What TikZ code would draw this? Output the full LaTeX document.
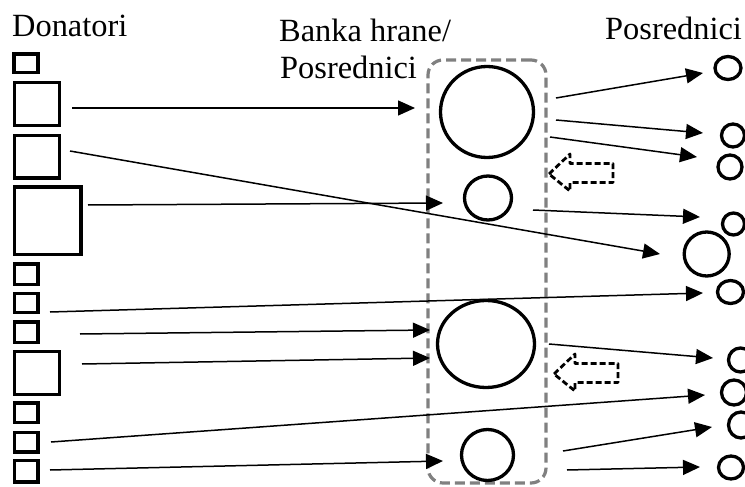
\documentclass[tikz,border=0pt]{standalone}
\usepackage{fontspec}
\setmainfont{Liberation Serif}
\usetikzlibrary{arrows.meta,shapes.geometric}
\begin{document}
\begin{tikzpicture}[x=1pt,y=-1pt,
  lbl/.style={anchor=base west,inner sep=0pt,font=\fontsize{32.4}{38}\selectfont},
  sq/.style={draw,line width=3.1pt,inner sep=0pt},
  circ/.style={draw,ellipse,line width=3.3pt,inner sep=0pt},
  conn/.style={line width=1.5pt,-{Triangle[length=17pt,width=15pt]}},
  bank/.style={draw=gray,line width=3.2pt,dash pattern=on 10pt off 5pt,rounded corners=15pt,inner sep=0pt},
  blk/.style={draw,line width=2.8pt,dash pattern=on 6pt off 3pt,line join=round}]
\useasboundingbox (0,0) rectangle (745,487);
\clip (0,0) rectangle (745,487);
% labels
\node[lbl] (tdon) at (12,37) {Donatori};
\node[lbl] (tbank1) at (279,42) {Banka hrane/};
\node[lbl] (tbank2) at (280,79) {Posrednici};
\node[lbl] (tpos) at (605,40) {Posrednici};
% bank box
\node[bank,minimum width=118pt,minimum height=423pt] (box) at (487,271.5) {};
% donor squares
\node[sq,minimum width=24pt,minimum height=18.6pt] (s1) at (26,63.3) {};
\node[sq,minimum width=45.3pt,minimum height=43pt] (s2) at (36.7,103.8) {};
\node[sq,minimum width=45pt,minimum height=42.6pt] (s3) at (36.8,156.7) {};
\node[sq,minimum width=66.6pt,minimum height=67.6pt] (s4) at (47.7,220.8) {};
\node[sq,minimum width=23.6pt,minimum height=20.6pt] (s5) at (26.2,274.3) {};
\node[sq,minimum width=23.6pt,minimum height=19pt] (s6) at (26.2,303.2) {};
\node[sq,minimum width=23.6pt,minimum height=20.6pt] (s7) at (26.2,332.3) {};
\node[sq,minimum width=45pt,minimum height=43pt] (s8) at (36.8,372.8) {};
\node[sq,minimum width=23.6pt,minimum height=19.6pt] (s9) at (26.2,412.8) {};
\node[sq,minimum width=23.6pt,minimum height=19.6pt] (s10) at (26.2,442.2) {};
\node[sq,minimum width=23.6pt,minimum height=21.3pt] (s11) at (26.2,471.3) {};
% bank circles
\node[circ,minimum width=93pt,minimum height=91pt] (c1) at (487,112) {};
\node[circ,minimum width=47pt,minimum height=44pt] (c2) at (488,198) {};
\node[circ,minimum width=97pt,minimum height=87pt] (c3) at (486,344) {};
\node[circ,minimum width=52pt,minimum height=51pt] (c4) at (487.5,455) {};
% intermediary circles
\node[circ,minimum width=26pt,minimum height=23pt] (r1) at (728,68) {};
\node[circ,minimum width=23pt,minimum height=23pt] (r2) at (733,135.5) {};
\node[circ,minimum width=24pt,minimum height=24pt] (r3) at (730,167) {};
\node[circ,minimum width=22pt,minimum height=22pt] (r4) at (733.5,224) {};
\node[circ,minimum width=45pt,minimum height=44pt] (r5) at (706.7,254) {};
\node[circ,minimum width=26pt,minimum height=23pt] (r6) at (730.5,292) {};
\node[circ,minimum width=24pt,minimum height=24pt] (r7) at (740.5,360) {};
\node[circ,minimum width=25pt,minimum height=25pt] (r8) at (734,392.5) {};
\node[circ,minimum width=25pt,minimum height=26pt] (r9) at (741,425) {};
\node[circ,minimum width=25pt,minimum height=23pt] (r10) at (731,467.5) {};
% connector end points
\coordinate (A0) at (72,108);   \coordinate (A1) at (415,108);
\coordinate (B0) at (70,151);   \coordinate (B1) at (660,254);
\coordinate (C0) at (88,205);   \coordinate (C1) at (443,203);
\coordinate (D0) at (50,312);   \coordinate (D1) at (703,293);
\coordinate (E0) at (80,334);   \coordinate (E1) at (430,330);
\coordinate (F0) at (82,364);   \coordinate (F1) at (430,358);
\coordinate (G0) at (51,442);   \coordinate (G1) at (705,395);
\coordinate (H0) at (50,470);   \coordinate (H1) at (443,461);
\coordinate (a10) at (556,98);  \coordinate (a11) at (703,73);
\coordinate (a20) at (556,120); \coordinate (a21) at (703,133);
\coordinate (a30) at (550,137); \coordinate (a31) at (697,157);
\coordinate (a40) at (533,210); \coordinate (a41) at (700,217);
\coordinate (a50) at (549,344); \coordinate (a51) at (713,358);
\coordinate (a60) at (563,451); \coordinate (a61) at (712,427);
\coordinate (a70) at (567,470); \coordinate (a71) at (700,467);
\foreach \p in {A,B,C,D,E,F,G,H,a1,a2,a3,a4,a5,a6,a7}
  \draw[conn] (\p0) -- (\p1);
% dashed block arrows
\draw[blk] (549,174) -- (570,154) -- (570,163.5) -- (613,163.5) -- (613,182.5) -- (570,182.5) -- (570,191) -- cycle;
\draw[blk] (554,374) -- (575,354) -- (575,363.5) -- (618,363.5) -- (618,382.5) -- (575,382.5) -- (575,391) -- cycle;
\end{tikzpicture}
\end{document}
